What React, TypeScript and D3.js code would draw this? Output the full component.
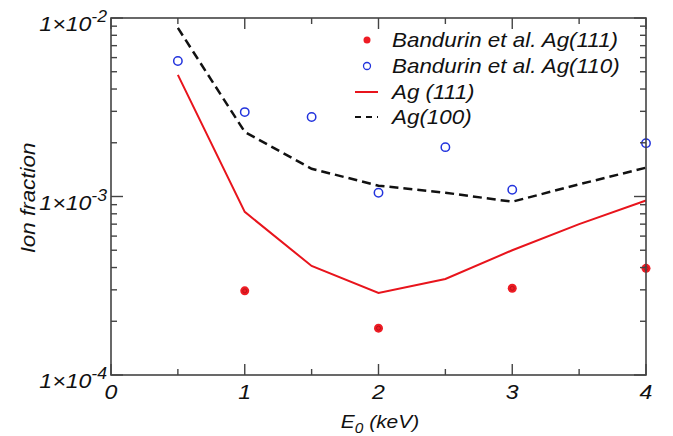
import React from "react";
import * as d3 from "d3";

const energyModel = [0.5, 1, 1.5, 2, 2.5, 3, 3.5, 4];
const ag111Model = [4.8e-3, 8.2e-4, 4.08e-4, 2.88e-4, 3.45e-4, 5.0e-4, 7.0e-4, 9.5e-4];
const ag100Model = [8.8e-3, 2.3e-3, 1.43e-3, 1.15e-3, 1.05e-3, 9.35e-4, 1.17e-3, 1.45e-3];
const energy110 = [0.5, 1, 1.5, 2, 2.5, 3, 4];
const band110 = [5.74e-3, 2.97e-3, 2.79e-3, 1.05e-3, 1.89e-3, 1.09e-3, 1.99e-3];
const energy111 = [1, 2, 3, 4];
const band111 = [2.96e-4, 1.83e-4, 3.06e-4, 3.96e-4];
const xTicks = [0, 1, 2, 3, 4];
const yTickExps = [-2, -3, -4];
const legendLabels = ["Bandurin et al. Ag(111)", "Bandurin et al. Ag(110)", "Ag (111)", "Ag(100)"];

const W = 673, H = 436;
const L = 111, R = 646, T = 18, B = 375;
const FONT = "'Liberation Sans', Arial, Helvetica, sans-serif";
const AX = "#444";

export default function App() {
  const x = d3.scaleLinear().domain([0, 4]).range([L, R]);
  const y = d3.scaleLog().domain([1e-4, 1e-2]).range([B, T]);
  const line = d3.line<[number, number]>().x(d => x(d[0])).y(d => y(d[1]));
  const minorY: number[] = [];
  [-4, -3].forEach(e => { for (let k = 2; k <= 9; k++) minorY.push(k * Math.pow(10, e)); });
  const minorX = [0.5, 1.5, 2.5, 3.5];
  const legendY = [40, 66, 92, 117];
  return (
    <svg width={W} height={H} style={{ position: "absolute", left: 0, top: 0, background: "#fff" }} fontFamily={FONT}>
      {/* model lines */}
      <path d={line(energyModel.map((e, i) => [e, ag111Model[i]]) as any) || ""} fill="none" stroke="#e8141c" strokeWidth={2} />
      <path d={line(energyModel.map((e, i) => [e, ag100Model[i]]) as any) || ""} fill="none" stroke="#111" strokeWidth={2.5} strokeDasharray="9,5" />
      {/* Bandurin Ag(110) */}
      {energy110.map((e, i) => (
        <circle key={"b" + i} cx={x(e)} cy={y(band110[i])} r={4.2} fill="none" stroke="#2233dd" strokeWidth={1.5} />
      ))}
      {/* Bandurin Ag(111) */}
      {energy111.map((e, i) => (
        <g key={"r" + i}>
          <circle cx={x(e)} cy={y(band111[i])} r={4.5} fill="#ee1c24" />
          <circle cx={x(e)} cy={y(band111[i])} r={2} fill="none" stroke="#b01018" strokeWidth={0.8} />
        </g>
      ))}
      {/* frame */}
      <rect x={L} y={T} width={R - L} height={B - T} fill="none" stroke={AX} strokeWidth={1.6} />
      {/* x ticks */}
      {xTicks.map(t => (
        <g key={"xt" + t}>
          <line x1={x(t)} x2={x(t)} y1={B} y2={B - 11} stroke={AX} strokeWidth={1.4} />
          <line x1={x(t)} x2={x(t)} y1={T} y2={T + 11} stroke={AX} strokeWidth={1.4} />
          <text transform={`translate(${x(t)},399) scale(1.1,1)`} textAnchor="middle" fontSize={21} fontStyle="italic" fill="#111">{t}</text>
        </g>
      ))}
      {minorX.map(t => (
        <g key={"xm" + t}>
          <line x1={x(t)} x2={x(t)} y1={B} y2={B - 6} stroke={AX} strokeWidth={1.4} />
          <line x1={x(t)} x2={x(t)} y1={T} y2={T + 6} stroke={AX} strokeWidth={1.4} />
        </g>
      ))}
      {/* y ticks */}
      {yTickExps.map(e => (
        <g key={"yt" + e}>
          <line x1={L} x2={L + 12} y1={y(Math.pow(10, e))} y2={y(Math.pow(10, e))} stroke={AX} strokeWidth={1.4} />
          <line x1={R} x2={R - 12} y1={y(Math.pow(10, e))} y2={y(Math.pow(10, e))} stroke={AX} strokeWidth={1.4} />
          <text transform={`translate(107,${y(Math.pow(10, e)) + 13}) scale(1.1,1)`} textAnchor="end" fontSize={21} fontStyle="italic" fill="#111">
            1×10<tspan dy={-9} fontSize={16}>{e}</tspan>
          </text>
        </g>
      ))}
      {minorY.map((v, i) => (
        <g key={"ym" + i}>
          <line x1={L} x2={L + 6} y1={y(v)} y2={y(v)} stroke={AX} strokeWidth={1.4} />
          <line x1={R} x2={R - 6} y1={y(v)} y2={y(v)} stroke={AX} strokeWidth={1.4} />
        </g>
      ))}
      {/* axis titles */}
      <text transform="translate(380,428) scale(1.1,1)" textAnchor="middle" fontSize={19} fontStyle="italic" fill="#111">
        E<tspan dy={5} fontSize={14}>0</tspan><tspan dy={-5}> (keV)</tspan>
      </text>
      <text transform="translate(35,198) rotate(-90) scale(1.12,1)" textAnchor="middle" fontSize={20} fontStyle="italic" fill="#111">Ion fraction</text>
      {/* legend */}
      <circle cx={367} cy={legendY[0]} r={3.5} fill="#ee1c24" />
      <circle cx={367} cy={legendY[1]} r={3.5} fill="none" stroke="#2233dd" strokeWidth={1.3} />
      <line x1={355} x2={378} y1={legendY[2]} y2={legendY[2]} stroke="#e8141c" strokeWidth={2} />
      <line x1={355} x2={378} y1={legendY[3]} y2={legendY[3]} stroke="#111" strokeWidth={2} strokeDasharray="6,5" />
      {legendLabels.map((s, i) => (
        <text key={s} transform={`translate(392,${legendY[i] + 7}) scale(1.12,1)`} fontSize={20} fontStyle="italic" fill="#111">{s}</text>
      ))}
    </svg>
  );
}
